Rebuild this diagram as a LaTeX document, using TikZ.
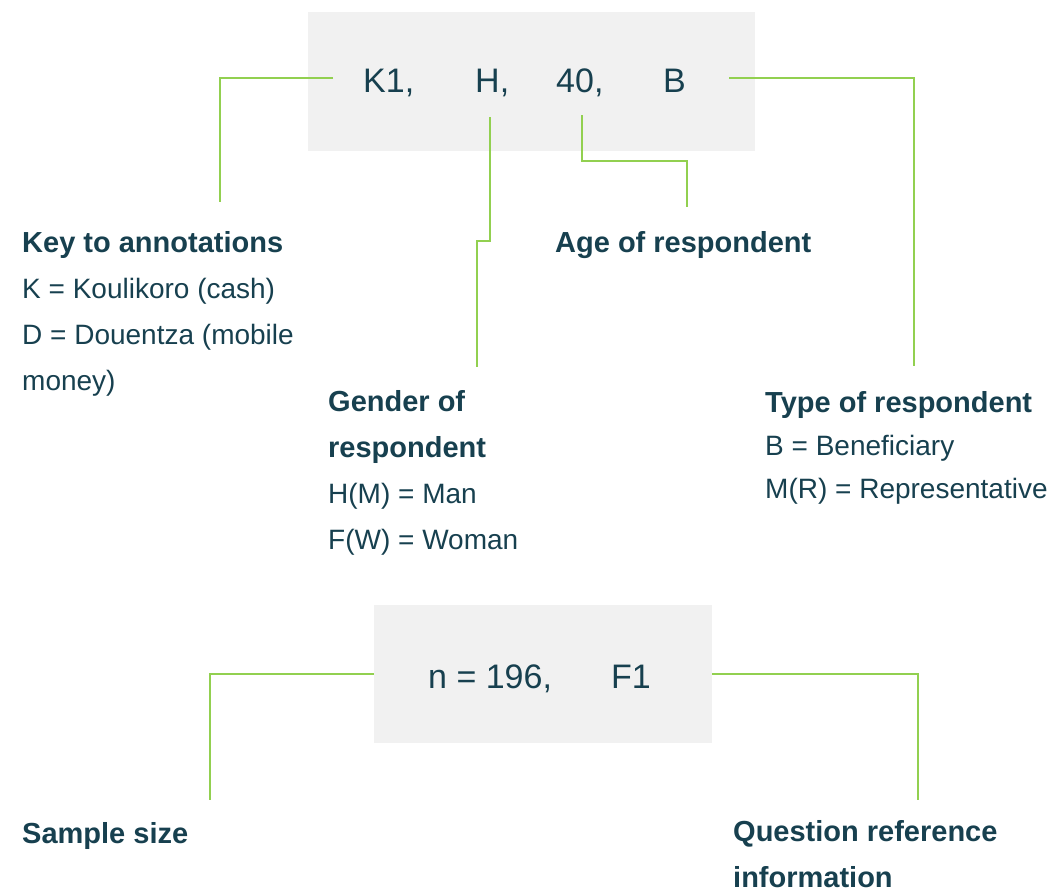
\documentclass[tikz,border=0pt]{standalone}
\usepackage{fontspec}
\setmainfont{Liberation Sans}
\usetikzlibrary{positioning}

\definecolor{inkteal}{HTML}{17404F}
\definecolor{leadgreen}{HTML}{92D050}
\definecolor{boxgray}{HTML}{F1F1F1}

\tikzset{
  codebox/.style={fill=boxgray, inner sep=0pt},
  codetext/.style={anchor=base west, inner sep=0pt, text=inkteal,
    font=\fontsize{34}{40}\selectfont},
  notehead/.style={anchor=base west, inner sep=0pt, text=inkteal, align=left,
    font=\fontsize{28}{46}\selectfont},
  leader/.style={draw=leadgreen, line width=2pt}
}
\newcommand{\headfont}{\bfseries\fontsize{29}{46}\selectfont}

\begin{document}
\begin{tikzpicture}[x=1pt,y=-1pt]
  \useasboundingbox (0,0) rectangle (1048,892);

  % code boxes
  \node[codebox, minimum width=447pt, minimum height=139pt] (topbox) at (531.5,81.5) {};
  \node[codebox, minimum width=338pt, minimum height=138pt] (nbox) at (543,674) {};

  \node[codetext] (kcode) at (363,92) {K1,};
  \node[codetext] (hcode) at (475,92) {H,};
  \node[codetext] (agecode) at (556,92) {40,};
  \node[codetext] (bcode) at (663,92) {B};
  \node[codetext] (ncode) at (428,688) {n = 196,};
  \node[codetext] (fcode) at (611,688) {F1};

  % notes (anchored at the baseline of their last line)
  \node[notehead] (keynote) at (22,390)
    {{\headfont Key to annotations}\\ K = Koulikoro (cash)\\
     D = Douentza (mobile\\ money)};
  \node[notehead] (agenote) at (555,252) {\headfont Age of respondent};
  \node[notehead] (gendernote) at (328,549)
    {{\headfont Gender of}\\ {\headfont respondent}\\
     H(M) = Man\\ F(W) = Woman};
  \node[notehead, font=\fontsize{28}{43}\selectfont] (typenote) at (765,498)
    {{\headfont Type of respondent}\\ B = Beneficiary\\
     M(R) = Representative};
  \node[notehead] (sizenote) at (22,843) {\headfont Sample size};
  \node[notehead] (refnote) at (733,887)
    {{\headfont Question reference}\\ {\headfont information}};

  % leader ends
  \coordinate (kstub) at (333,78);
  \coordinate (keyend) at (220,202);
  \coordinate (hstub) at (490,117);
  \coordinate (hjog) at (477,241);
  \coordinate (genderend) at (477,367);
  \coordinate (agestub) at (582,115);
  \coordinate (agejog) at (687,161);
  \coordinate (ageend) at (687,207);
  \coordinate (bstub) at (729,78);
  \coordinate (typeend) at (914,366);
  \coordinate (sizeend) at (210,800);
  \coordinate (refend) at (918,800);

  \draw[leader] (kstub) -| (keyend);
  \draw[leader] (hstub) |- (hjog) -- (genderend);
  \draw[leader] (agestub) |- (agejog) -- (ageend);
  \draw[leader] (bstub) -| (typeend);
  \draw[leader] (nbox.west) -| (sizeend);
  \draw[leader] (nbox.east) -| (refend);
\end{tikzpicture}
\end{document}
